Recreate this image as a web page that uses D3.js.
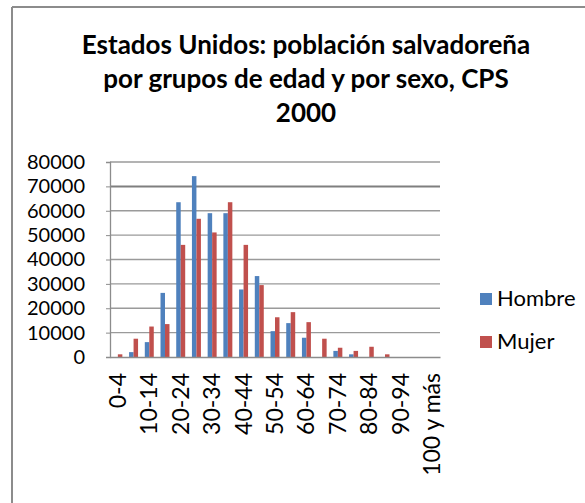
<!DOCTYPE html>
<meta charset="utf-8">
<style>
  body { margin: 0; background: #fff; }
  text { font-family: Lato, "Open Sans", sans-serif; fill: #000; }
</style>
<body>
<script src="https://d3js.org/d3.v7.min.js"></script>
<script>
// age groups (21 groups of five years, last one is 100+)
var grupos = ["0-4","5-9","10-14","15-19","20-24","25-29","30-34","35-39","40-44","45-49",
              "50-54","55-59","60-64","65-69","70-74","75-79","80-84","85-89","90-94","95-99","100 y más"];
var hombre = [0, 2000, 6100, 26300, 63500, 74200, 59000, 59000, 27700, 33200,
              10600, 13900, 7900, 0, 2500, 1100, 0, 0, 0, 0, 0];
var mujer  = [1100, 7500, 12500, 13500, 46000, 56700, 51100, 63500, 46000, 29500,
              16300, 18400, 14300, 7500, 3800, 2500, 4200, 1100, 0, 0, 0];
var series = ["Hombre", "Mujer"];
var colores = ["#4F81BD", "#C0504D"];
var yTicks = [0,10000,20000,30000,40000,50000,60000,70000,80000];
var titulo = ["Estados Unidos: población salvadoreña", "por grupos de edad y por sexo, CPS", "2000"];

var W = 585, H = 503;
var svg = d3.select("body").append("svg")
    .attr("width", W)
    .attr("height", H);

// frame (only left and top edges visible)
svg.append("line").attr("x1", 12).attr("x2", 12).attr("y1", 7).attr("y2", H)
    .attr("stroke", "#8c8c8c").attr("stroke-width", 2);
svg.append("line").attr("x1", 12).attr("x2", W).attr("y1", 7).attr("y2", 7)
    .attr("stroke", "#8c8c8c").attr("stroke-width", 2);

// title
svg.append("g").selectAll("text")
    .data(titulo)
  .enter().append("text")
    .attr("x", 306)
    .attr("y", function(d, i) { return 54 + i * 34; })
    .attr("text-anchor", "middle")
    .attr("font-size", "26px")
    .attr("font-weight", "bold")
    .text(function(d) { return d; });

var pLeft = 110, pRight = 440, pTop = 162, pBottom = 357;

var x = d3.scaleBand().domain(grupos).range([pLeft, pRight]).paddingInner(0.4286).paddingOuter(0.2143);
var xs = d3.scaleBand().domain(series).range([0, x.bandwidth()]);
var y = d3.scaleLinear().domain([0, 80000]).range([pBottom, pTop]);

// gridlines
svg.append("g").selectAll("line")
    .data(yTicks.slice(1))
  .enter().append("line")
    .attr("x1", pLeft).attr("x2", pRight)
    .attr("y1", function(d) { return y(d); })
    .attr("y2", function(d) { return y(d); })
    .attr("stroke", function(d) { return d === 70000 ? "#7f7f7f" : "#9a9a9a"; })
    .attr("stroke-width", function(d) { return d === 70000 ? 2 : 1.3; });

// y axis
var yAxis = svg.append("g")
    .attr("transform", "translate(" + pLeft + ",0)")
    .call(d3.axisLeft(y).tickValues(yTicks).tickSize(4).tickPadding(21).tickFormat(d3.format("d")));
yAxis.select(".domain").attr("stroke", "#8c8c8c").attr("stroke-width", 1.3);
yAxis.selectAll(".tick line").attr("stroke", "#8c8c8c");
yAxis.selectAll("text").attr("font-size", "20px").attr("font-family", "Lato, sans-serif").attr("fill", "#000");

// bars
var datos = grupos.map(function(g, i) { return {g: g, vals: [hombre[i], mujer[i]]}; });
var grp = svg.append("g").selectAll("g")
    .data(datos)
  .enter().append("g")
    .attr("transform", function(d) { return "translate(" + x(d.g) + ",0)"; });
grp.selectAll("rect")
    .data(function(d) { return d.vals.map(function(v, j) { return {s: series[j], v: v, j: j}; }); })
  .enter().append("rect")
    .attr("x", function(d) { return xs(d.s); })
    .attr("width", xs.bandwidth())
    .attr("y", function(d) { return y(d.v); })
    .attr("height", function(d) { return pBottom - y(d.v); })
    .attr("fill", function(d) { return colores[d.j]; });

// x axis
var xAxis = svg.append("g")
    .attr("transform", "translate(0," + pBottom + ")")
    .call(d3.axisBottom(x).tickSize(0).tickPadding(0)
      .tickFormat(function(d, i) { return i % 2 === 0 ? d : ""; }));
xAxis.select(".domain").attr("stroke", "#8c8c8c").attr("stroke-width", 1.3);
xAxis.selectAll("text")
    .attr("font-size", "23px")
    .attr("font-family", "Lato, sans-serif")
    .attr("fill", "#000")
    .attr("text-anchor", "end")
    .attr("transform", "translate(0,16) rotate(-90)")
    .attr("dx", 0)
    .attr("dy", "0.35em")
    .attr("y", 0);

// legend
var leg = svg.append("g").selectAll("g")
    .data(series)
  .enter().append("g")
    .attr("transform", function(d, i) { return "translate(480," + (293 + i * 43) + ")"; });
leg.append("rect").attr("width", 12).attr("height", 12)
    .attr("fill", function(d, i) { return colores[i]; });
leg.append("text").attr("x", 17).attr("y", 13)
    .attr("font-size", "22px")
    .text(function(d) { return d; });
</script>
</body>
